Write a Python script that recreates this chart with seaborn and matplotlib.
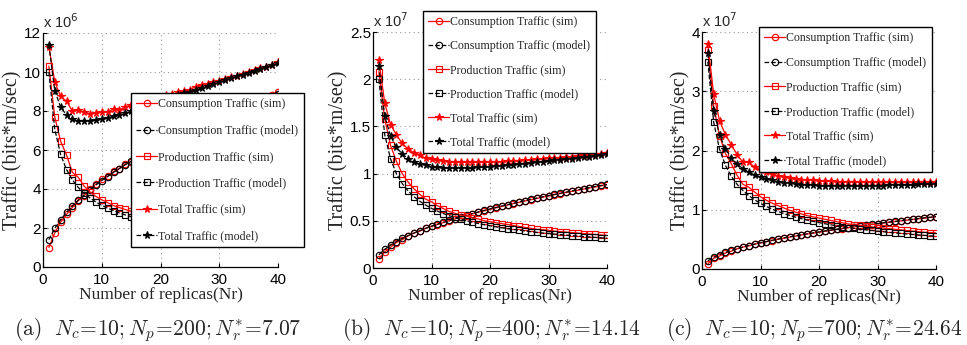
import numpy as np
import pandas as pd
import matplotlib
matplotlib.use("Agg")
import matplotlib.pyplot as plt
import seaborn as sns

sns.set_theme(style="white")
plt.rcParams["font.family"] = ["Liberation Sans", "DejaVu Sans"]
plt.rcParams["mathtext.fontset"] = "cm"

nr = list(range(1, 41))

# ---------- panel (a): Nc=10, Np=200 (units of 1e6) ----------
a_cons_sim = [1.0, 1.75, 2.3, 2.7, 3.05, 3.4, 3.65, 4.0, 4.25, 4.5, 4.65, 4.9, 5.05, 5.3, 5.4,
              5.6, 5.78, 5.95, 6.1, 6.28, 6.43, 6.58, 6.73, 6.88, 7.02, 7.16, 7.3, 7.44, 7.57, 7.7,
              7.83, 7.96, 8.08, 8.2, 8.33, 8.45, 8.57, 8.69, 8.82, 8.98]
a_cons_mod = [1.40, 1.98, 2.42, 2.80, 3.13, 3.43, 3.70, 3.96, 4.20, 4.43, 4.64, 4.85, 5.05, 5.24, 5.42,
              5.60, 5.77, 5.94, 6.10, 6.26, 6.42, 6.57, 6.71, 6.86, 7.00, 7.14, 7.27, 7.41, 7.54, 7.67,
              7.80, 7.92, 8.04, 8.16, 8.28, 8.40, 8.52, 8.63, 8.74, 8.85]
a_prod_sim = [10.3, 7.7, 6.45, 5.75, 4.85, 4.6, 4.15, 3.85, 3.62, 3.45, 3.3, 3.15, 3.05, 2.95, 2.85,
              2.72, 2.65, 2.58, 2.5, 2.45, 2.38, 2.33, 2.28, 2.22, 2.18, 2.14, 2.1, 2.06, 2.03, 2.0,
              1.96, 1.93, 1.9, 1.87, 1.84, 1.82, 1.79, 1.77, 1.74, 1.72]
a_prod_mod = [10.00, 7.07, 5.77, 5.00, 4.47, 4.08, 3.78, 3.54, 3.33, 3.16, 3.02, 2.89, 2.77, 2.67, 2.58,
              2.50, 2.43, 2.36, 2.29, 2.24, 2.18, 2.13, 2.09, 2.04, 2.00, 1.96, 1.92, 1.89, 1.86, 1.83,
              1.80, 1.77, 1.74, 1.71, 1.69, 1.67, 1.64, 1.62, 1.60, 1.58]
a_tot_sim = [11.3, 9.5, 8.75, 8.5, 8.0, 8.05, 7.95, 7.85, 7.9, 7.95, 7.95, 8.1, 8.05, 8.2, 8.3,
             8.35, 8.45, 8.5, 8.6, 8.7, 8.8, 8.85, 8.95, 9.05, 9.1, 9.25, 9.35, 9.4, 9.5, 9.55,
             9.65, 9.72, 9.82, 9.9, 10.0, 10.1, 10.2, 10.28, 10.38, 10.5]
a_tot_mod = [11.40, 9.05, 8.19, 7.80, 7.60, 7.51, 7.48, 7.50, 7.53, 7.59, 7.66, 7.74, 7.82, 7.91, 8.00,
             8.10, 8.20, 8.30, 8.39, 8.50, 8.60, 8.70, 8.80, 8.90, 9.00, 9.10, 9.19, 9.30, 9.40, 9.50,
             9.60, 9.69, 9.78, 9.87, 9.97, 10.07, 10.16, 10.25, 10.34, 10.45]

# ---------- panel (b): Nc=10, Np=400 (units of 1e7) ----------
b_cons_sim = [0.10, 0.17, 0.22, 0.27, 0.30, 0.34, 0.37, 0.39, 0.42, 0.44, 0.46, 0.48, 0.50, 0.52, 0.54,
              0.555, 0.575, 0.59, 0.605, 0.62, 0.637, 0.652, 0.667, 0.682, 0.696, 0.71, 0.723, 0.737, 0.75, 0.763,
              0.776, 0.788, 0.80, 0.812, 0.824, 0.836, 0.848, 0.859, 0.87, 0.882]
b_cons_mod = [0.140, 0.198, 0.242, 0.280, 0.313, 0.343, 0.370, 0.396, 0.420, 0.443, 0.464, 0.485, 0.505, 0.524, 0.542,
              0.560, 0.577, 0.594, 0.610, 0.626, 0.642, 0.657, 0.671, 0.686, 0.700, 0.714, 0.727, 0.741, 0.754, 0.767,
              0.780, 0.792, 0.804, 0.816, 0.828, 0.840, 0.852, 0.863, 0.874, 0.885]
b_prod_sim = [2.08, 1.58, 1.30, 1.13, 1.00, 0.91, 0.84, 0.78, 0.73, 0.70, 0.66, 0.63, 0.60, 0.58, 0.56,
              0.55, 0.53, 0.52, 0.50, 0.49, 0.48, 0.47, 0.46, 0.45, 0.44, 0.43, 0.42, 0.41, 0.405, 0.40,
              0.39, 0.385, 0.38, 0.375, 0.37, 0.365, 0.36, 0.355, 0.35, 0.345]
b_prod_mod = [2.000, 1.414, 1.155, 1.000, 0.894, 0.816, 0.756, 0.707, 0.667, 0.632, 0.603, 0.577, 0.555, 0.535, 0.516,
              0.500, 0.485, 0.471, 0.459, 0.447, 0.436, 0.426, 0.417, 0.408, 0.400, 0.392, 0.385, 0.378, 0.371, 0.365,
              0.359, 0.354, 0.348, 0.343, 0.338, 0.333, 0.329, 0.324, 0.320, 0.316]
b_tot_sim = [2.20, 1.75, 1.52, 1.41, 1.32, 1.26, 1.22, 1.20, 1.16, 1.15, 1.14, 1.13, 1.125, 1.12, 1.12,
             1.12, 1.12, 1.12, 1.12, 1.12, 1.125, 1.125, 1.13, 1.13, 1.135, 1.14, 1.145, 1.15, 1.155, 1.16,
             1.165, 1.17, 1.175, 1.18, 1.19, 1.195, 1.20, 1.205, 1.21, 1.22]
b_tot_mod = [2.140, 1.612, 1.397, 1.280, 1.207, 1.159, 1.126, 1.103, 1.087, 1.075, 1.067, 1.062, 1.060, 1.059, 1.058,
             1.060, 1.062, 1.065, 1.069, 1.073, 1.078, 1.083, 1.088, 1.094, 1.100, 1.106, 1.112, 1.119, 1.125, 1.132,
             1.139, 1.146, 1.152, 1.159, 1.166, 1.173, 1.181, 1.187, 1.194, 1.205]

# ---------- panel (c): Nc=10, Np=700 (units of 1e7) ----------
c_cons_sim = [0.09, 0.18, 0.22, 0.27, 0.30, 0.34, 0.37, 0.39, 0.42, 0.44, 0.46, 0.48, 0.50, 0.52, 0.54,
              0.555, 0.575, 0.59, 0.605, 0.62, 0.637, 0.652, 0.667, 0.682, 0.696, 0.71, 0.723, 0.737, 0.75, 0.763,
              0.776, 0.788, 0.80, 0.812, 0.824, 0.836, 0.848, 0.859, 0.87, 0.882]
c_cons_mod = [0.140, 0.198, 0.242, 0.280, 0.313, 0.343, 0.370, 0.396, 0.420, 0.443, 0.464, 0.485, 0.505, 0.524, 0.542,
              0.560, 0.577, 0.594, 0.610, 0.626, 0.642, 0.657, 0.671, 0.686, 0.700, 0.714, 0.727, 0.741, 0.754, 0.767,
              0.780, 0.792, 0.804, 0.816, 0.828, 0.840, 0.852, 0.863, 0.874, 0.885]
c_prod_sim = [3.70, 2.75, 2.25, 1.95, 1.78, 1.58, 1.43, 1.38, 1.30, 1.22, 1.16, 1.11, 1.07, 1.03, 0.99,
              0.96, 0.93, 0.90, 0.88, 0.86, 0.84, 0.82, 0.80, 0.78, 0.76, 0.75, 0.74, 0.72, 0.71, 0.70,
              0.69, 0.68, 0.67, 0.66, 0.65, 0.64, 0.63, 0.62, 0.615, 0.61]
c_prod_mod = [3.500, 2.475, 2.021, 1.750, 1.565, 1.429, 1.323, 1.237, 1.167, 1.107, 1.055, 1.010, 0.971, 0.935, 0.904,
              0.875, 0.849, 0.825, 0.803, 0.783, 0.764, 0.746, 0.730, 0.714, 0.700, 0.686, 0.674, 0.661, 0.650, 0.639,
              0.629, 0.619, 0.609, 0.600, 0.592, 0.583, 0.575, 0.568, 0.560, 0.553]
c_tot_sim = [3.80, 2.95, 2.50, 2.27, 2.10, 1.93, 1.80, 1.80, 1.72, 1.67, 1.64, 1.60, 1.57, 1.55, 1.53,
             1.52, 1.51, 1.50, 1.50, 1.49, 1.48, 1.48, 1.47, 1.47, 1.47, 1.47, 1.46, 1.46, 1.46, 1.46,
             1.46, 1.46, 1.46, 1.46, 1.46, 1.46, 1.46, 1.47, 1.47, 1.47]
c_tot_mod = [3.640, 2.673, 2.263, 2.030, 1.878, 1.772, 1.693, 1.633, 1.587, 1.550, 1.519, 1.495, 1.476, 1.459, 1.446,
             1.435, 1.426, 1.419, 1.413, 1.409, 1.406, 1.403, 1.401, 1.400, 1.400, 1.400, 1.401, 1.402, 1.404, 1.406,
             1.409, 1.411, 1.413, 1.416, 1.420, 1.423, 1.427, 1.431, 1.434, 1.438]

labels = ["Consumption Traffic (sim)", "Consumption Traffic (model)",
          "Production Traffic (sim)", "Production Traffic (model)",
          "Total Traffic (sim)", "Total Traffic (model)"]
yticks_list = [[0, 2, 4, 6, 8, 10, 12], [0, 0.5, 1, 1.5, 2, 2.5], [0, 1, 2, 3, 4]]
ytick_labels = [["0", "2", "4", "6", "8", "10", "12"], ["0", "0.5", "1", "1.5", "2", "2.5"],
                ["0", "1", "2", "3", "4"]]
exponents = ["6", "7", "7"]
captions = [r"$\mathrm{(a)}\ \ N_c\!=\!10;N_p\!=\!200;N_r^{*}\!=\!7.07$",
            r"$\mathrm{(b)}\ \ N_c\!=\!10;N_p\!=\!400;N_r^{*}\!=\!14.14$",
            r"$\mathrm{(c)}\ \ N_c\!=\!10;N_p\!=\!700;N_r^{*}\!=\!24.64$"]

panels = [
    [a_cons_sim, a_cons_mod, a_prod_sim, a_prod_mod, a_tot_sim, a_tot_mod],
    [b_cons_sim, b_cons_mod, b_prod_sim, b_prod_mod, b_tot_sim, b_tot_mod],
    [c_cons_sim, c_cons_mod, c_prod_sim, c_prod_mod, c_tot_sim, c_tot_mod],
]

W, H = 967, 345
fig = plt.figure(figsize=(W / 100, H / 100), dpi=100)

ax_px = [(43, 33, 278, 267), (373, 32, 607, 268), (702, 32, 936, 269)]
leg_px = [(131, 93), (423, 11), (759, 27)]
label_sp = [1.2, 1.0, 1.05]
cap_x = [158, 491, 814]

styles = [
    dict(color="red", marker="o", linestyle="-", mfc="none"),
    dict(color="black", marker="o", linestyle="--", mfc="none", dashes=(3, 3)),
    dict(color="red", marker="s", linestyle="-", mfc="none"),
    dict(color="black", marker="s", linestyle="--", mfc="none", dashes=(3, 3)),
    dict(color="red", marker="*", linestyle="-", mfc="red"),
    dict(color="black", marker="*", linestyle="--", mfc="black", dashes=(3, 3)),
]
serif = ["Liberation Serif", "DejaVu Serif"]

for i, series in enumerate(panels):
    l, t, r, b = ax_px[i]
    ax = fig.add_axes([l / W, 1 - b / H, (r - l) / W, (b - t) / H])
    ax.set_facecolor("white")
    for j, ys in enumerate(series):
        st = dict(styles[j])
        col = st.pop("color")
        mk = st.pop("marker")
        ms = 5.5 if mk == "*" else 4.6
        sns.lineplot(x=nr, y=ys, ax=ax, color=col, marker=mk, markeredgecolor=col,
                     markersize=ms, markeredgewidth=0.85, linewidth=0.9,
                     label=labels[j], **st)
    ax.set_xlim(0, 40)
    ax.set_ylim(yticks_list[i][0], yticks_list[i][-1])
    ax.set_xticks([0, 10, 20, 30, 40])
    ax.set_xticklabels(["0", "10", "20", "30", "40"])
    ax.set_yticks(yticks_list[i])
    ax.set_yticklabels(ytick_labels[i])
    ax.tick_params(axis="both", direction="in", length=3, width=0.8, labelsize=11,
                   colors="black", left=True, bottom=True)
    ax.tick_params(axis="y", pad=1.5)
    ax.tick_params(axis="x", pad=4)
    ax.grid(True, linestyle=(0, (1, 3)), color="#999999", linewidth=0.8)
    for s in ["top", "right"]:
        ax.spines[s].set_visible(False)
    for s in ["left", "bottom"]:
        ax.spines[s].set_color("black")
        ax.spines[s].set_linewidth(0.9)
    ax.set_xlabel("Number of replicas(Nr)", family=serif, fontsize=12.5, labelpad=0)
    ax.set_ylabel("Traffic (bits*m/sec)", family=serif, fontsize=14.5, labelpad=1)
    ax.text(0.0, 1.01, r"x 10$^{" + exponents[i] + "}$", transform=ax.transAxes,
            fontsize=10.5, ha="left", va="bottom", math_fontfamily="dejavusans")
    lx, ly = leg_px[i]
    leg = ax.legend(loc="upper left", bbox_to_anchor=(lx / W, 1 - ly / H),
                    bbox_transform=fig.transFigure, borderaxespad=0,
                    prop={"family": serif, "size": 8.6}, frameon=True, fancybox=False,
                    handlelength=1.7, handletextpad=0.15, labelspacing=label_sp[i],
                    borderpad=0.45)
    leg.get_frame().set_edgecolor("black")
    leg.get_frame().set_linewidth(1.0)
    leg.get_frame().set_alpha(1.0)
    leg.set_zorder(10)
    fig.text(cap_x[i] / W, 1 - 330 / H, captions[i], ha="center", va="center",
             fontsize=15.5)

fig.savefig("out.png", dpi=100)
